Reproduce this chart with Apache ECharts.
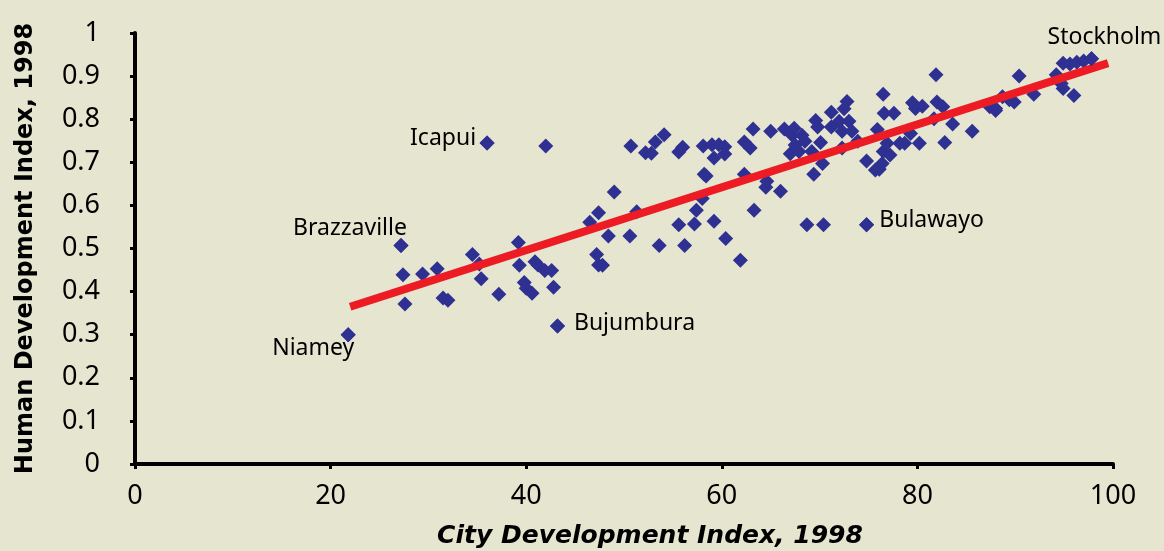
<!DOCTYPE html>
<html>
<head>
<meta charset="utf-8">
<script src="https://cdn.jsdelivr.net/npm/echarts@6/dist/echarts.min.js"></script>
<style>
html,body{margin:0;padding:0;background:#e6e5d0;}
#chart{width:1164px;height:551px;}
</style>
</head>
<body>
<div id="chart"></div>
<script>
// City Development Index (x) vs Human Development Index (y), 1998
var cityPoints = [
  [21.8,0.300],[27.2,0.507],[27.4,0.439],[27.6,0.371],[29.4,0.441],[30.9,0.453],
  [31.5,0.385],[32.0,0.380],[34.5,0.486],[35.2,0.464],[35.4,0.430],[36.0,0.745],
  [37.2,0.394],[39.2,0.514],[39.3,0.461],[39.8,0.421],[40.0,0.408],[40.6,0.396],
  [40.9,0.469],[41.2,0.462],[41.9,0.449],[42.0,0.738],[42.6,0.449],[42.8,0.410],
  [43.2,0.320],[46.5,0.561],[47.2,0.486],[47.4,0.462],[47.8,0.461],[47.4,0.583],
  [48.4,0.529],[49.0,0.631],[50.6,0.529],[50.7,0.738],[51.3,0.585],[52.2,0.722],
  [52.8,0.721],[53.2,0.747],[53.6,0.507],[54.1,0.764],[55.6,0.724],[56.0,0.735],
  [55.6,0.555],[56.2,0.507],[57.2,0.557],[57.4,0.589],[58.0,0.616],[58.1,0.738],
  [58.2,0.672],[58.4,0.668],[59.0,0.741],[59.2,0.710],[59.2,0.563],[59.7,0.741],
  [60.3,0.736],[60.3,0.719],[60.4,0.523],[61.9,0.473],[62.3,0.747],[62.3,0.672],
  [62.9,0.733],[63.2,0.777],[63.3,0.589],[64.5,0.642],[64.6,0.656],[65.0,0.772],
  [66.0,0.633],[66.4,0.777],[67.0,0.720],[67.2,0.763],[67.4,0.779],[67.5,0.740],
  [67.9,0.725],[68.2,0.763],[68.5,0.749],[68.7,0.555],[69.2,0.725],[69.4,0.672],
  [69.6,0.797],[69.8,0.782],[70.1,0.746],[70.3,0.697],[70.4,0.555],[71.2,0.816],
  [71.2,0.782],[72.0,0.795],[72.3,0.772],[72.3,0.733],[72.5,0.824],[72.8,0.841],
  [73.0,0.795],[73.3,0.772],[73.9,0.749],[74.8,0.703],[74.8,0.555],[75.7,0.682],
  [75.9,0.776],[76.1,0.684],[76.4,0.697],[76.5,0.858],[76.5,0.725],[76.6,0.814],
  [76.9,0.744],[77.2,0.717],[77.6,0.814],[78.2,0.744],[78.7,0.744],[79.3,0.767],
  [79.5,0.838],[79.8,0.825],[80.2,0.744],[80.5,0.830],[81.7,0.801],[81.9,0.903],
  [82.0,0.840],[82.6,0.829],[82.8,0.746],[83.6,0.789],[85.6,0.772],[87.4,0.829],
  [88.0,0.825],[88.0,0.820],[88.7,0.852],[89.4,0.845],[89.9,0.840],[90.4,0.900],
  [91.9,0.858],[94.2,0.903],[94.7,0.883],[94.9,0.871],[94.9,0.930],[95.6,0.928],
  [96.0,0.855],[96.3,0.932],[97.0,0.935],[97.8,0.940]
];
// named cities: [x, y, name]
var namedCities = [
  [97.8,0.940,'Stockholm'],
  [36.0,0.745,'Icapui'],
  [27.2,0.507,'Brazzaville'],
  [21.8,0.300,'Niamey'],
  [43.2,0.320,'Bujumbura'],
  [74.8,0.555,'Bulawayo']
];
var labelOffsets = {
  'Stockholm':[13,-21],'Icapui':[-44,-4],'Brazzaville':[-51,-17],
  'Niamey':[-35,14],'Bujumbura':[77,-3],'Bulawayo':[65,-4]
};
var trendLine = [[22.0,0.365],[99.5,0.930]];
var xTicks = [0,20,40,60,80,100];
var yTicks = [0,0.1,0.2,0.3,0.4,0.5,0.6,0.7,0.8,0.9,1];

var chart = echarts.init(document.getElementById('chart'), null, {renderer:'canvas'});
var labelFont = '"Noto Sans", "Open Sans", sans-serif';
var titleFont = '"DejaVu Sans", sans-serif';
chart.setOption({
  backgroundColor:'#e6e5d0',
  animation:false,
  grid:{left:135,right:51,top:33,bottom:87,containLabel:false,outerBoundsMode:'none'},
  xAxis:{
    type:'value',min:xTicks[0],max:xTicks[xTicks.length-1],interval:20,
    name:'City Development Index, 1998',nameLocation:'middle',nameGap:60,
    nameTextStyle:{fontFamily:titleFont,fontWeight:'bold',fontStyle:'italic',fontSize:25,color:'#000',padding:[0,0,0,52]},
    axisLine:{show:true,lineStyle:{color:'#000',width:4}},
    axisTick:{show:true,length:5,lineStyle:{color:'#000',width:3}},
    axisLabel:{fontFamily:labelFont,fontSize:27,color:'#000',margin:19},
    splitLine:{show:false}
  },
  yAxis:{
    type:'value',min:yTicks[0],max:yTicks[yTicks.length-1],interval:0.1,
    name:'Human Development Index, 1998',nameLocation:'middle',nameGap:97,
    nameTextStyle:{fontFamily:titleFont,fontWeight:'bold',fontSize:24,color:'#000'},
    axisLine:{show:true,lineStyle:{color:'#000',width:4}},
    axisTick:{show:true,length:5,lineStyle:{color:'#000',width:3}},
    axisLabel:{fontFamily:labelFont,fontSize:27,color:'#000',margin:35,
      formatter:function(v){return String(+v.toFixed(1));}},
    splitLine:{show:false}
  },
  series:[
    {
      type:'scatter',symbol:'diamond',symbolSize:15,clip:false,
      itemStyle:{color:'#2E3192',opacity:1},
      data:cityPoints
    },
    {
      type:'line',data:trendLine,symbol:'none',z:3,
      lineStyle:{color:'#ED1C24',width:8,cap:'butt'}
    },
    {
      type:'scatter',symbol:'diamond',symbolSize:15,z:4,clip:false,
      itemStyle:{color:'#2E3192',opacity:1},
      data:namedCities.map(function(c){
        return {value:[c[0],c[1]],label:{show:true,formatter:c[2],position:'inside',
          offset:labelOffsets[c[2]],fontFamily:labelFont,fontSize:23,color:'#000'}};
      })
    }
  ]
});
</script>
</body>
</html>
